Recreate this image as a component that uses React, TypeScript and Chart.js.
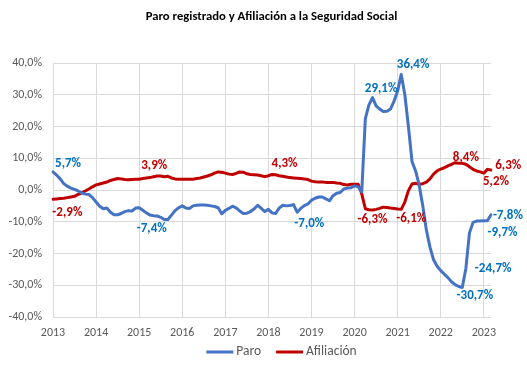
import React, { useEffect, useRef } from "react";
import { Chart, registerables } from "chart.js";

Chart.register(...registerables);

const TITLE = "Paro registrado y Afiliación a la Seguridad Social";
const YEARS = [2013, 2014, 2015, 2016, 2017, 2018, 2019, 2020, 2021, 2022, 2023];
const LAST_YEAR_MONTHS = 3;
const SERIES_NAMES = ["Paro", "Afiliación"];

const PARO = [
  5.7, 4.7, 3.5, 2.0, 1.2, 0.6, 0.2, -0.3, -0.9, -1.3, -1.4, -2.4,
  -3.8, -5.1, -5.9, -5.7, -7.0, -7.8, -7.8, -7.4, -6.8, -6.5, -6.6, -5.7,
  -5.6, -6.4, -7.2, -7.9, -8.1, -8.2, -8.6, -9.3, -9.3, -7.9, -6.5, -5.6,
  -5.0, -5.7, -5.8, -5.0, -4.8, -4.7, -4.7, -4.8, -5.0, -5.2, -5.6, -7.5,
  -6.4, -5.8, -5.1, -5.6, -6.6, -7.4, -7.3, -6.8, -6.0, -4.8, -5.8, -6.8,
  -6.1, -7.2, -7.4, -5.7, -4.8, -5.0, -4.9, -4.6, -7.0, -5.8, -4.9, -4.4,
  -3.2, -2.6, -2.2, -2.2, -2.8, -3.4, -1.8, -1.0, -0.8, 0.3, 0.6, 0.7,
  1.3, 1.0, -0.6, 22.5, 26.8, 29.1, 26.5, 25.5, 24.7, 24.8, 25.5, 28.0,
  31.2, 36.4, 30.0, 20.0, 9.0, 6.0, 1.5, -5.0, -12.6, -18.0, -22.0, -24.0,
  -25.4, -26.5, -27.6, -28.9, -29.8, -30.4, -30.7, -24.7, -13.5, -10.2, -9.8, -9.8,
  -9.7, -9.7, -7.8,
];

const AFILIACION = [
  -2.9, -2.8, -2.7, -2.6, -2.4, -2.2, -2.0, -1.4, -0.9, -0.3, 0.3, 1.0,
  1.6, 1.9, 2.2, 2.5, 3.0, 3.3, 3.6, 3.5, 3.3, 3.2, 3.3, 3.4,
  3.4, 3.6, 3.8, 3.9, 4.2, 4.4, 4.4, 4.2, 4.3, 3.8, 3.5, 3.4,
  3.4, 3.4, 3.4, 3.4, 3.6, 3.8, 4.1, 4.4, 4.8, 5.3, 5.7, 5.6,
  5.3, 5.0, 4.9, 5.2, 5.7, 5.6, 5.1, 4.9, 4.8, 4.7, 4.5, 4.2,
  4.5, 4.9, 4.8, 4.5, 4.3, 4.1, 3.9, 3.8, 3.7, 3.6, 3.5, 3.3,
  2.8, 2.6, 2.5, 2.5, 2.4, 2.4, 2.4, 2.2, 2.1, 1.7, 1.6, 1.8,
  1.8, 1.8, -1.2, -5.9, -6.2, -6.3, -6.1, -5.8, -5.4, -5.5, -5.7, -5.8,
  -6.0, -6.1, -3.8, -0.2, 1.9, 2.1, 1.8, 2.0, 2.5, 3.5, 5.0, 6.0,
  6.6, 7.0, 7.6, 8.1, 8.6, 8.4, 8.4, 8.1, 7.3, 6.5, 6.0, 5.7,
  5.3, 6.5, 6.3,
];

// data labels: text, series, anchor position in data units (month index, value)
const LABEL_TEXTS = ["5,7%", "-7,4%", "-7,0%", "29,1%", "36,4%", "-30,7%", "-24,7%", "-9,7%", "-7,8%",
  "-2,9%", "3,9%", "4,3%", "-6,3%", "-6,1%", "8,4%", "5,2%", "6,3%"];
const LABEL_SERIES = [0, 0, 0, 0, 0, 0, 0, 0, 0, 1, 1, 1, 1, 1, 1, 1, 1];
const LABEL_IDX = [4.2, 27.5, 71.4, 91.4, 100.3, 117.5, 122.6, 125.2, 126.7,
  4.0, 28.2, 64.5, 89.0, 99.8, 115.0, 123.4, 126.8];
const LABEL_VAL = [8.2, -12.3, -10.7, 32.0, 39.3, -33.4, -24.9, -13.4, -8.1,
  -7.1, 7.6, 8.2, -9.5, -9.1, 10.1, 2.6, 7.6];

const LINE_COLORS = ["#4472C4", "#C00000"];
const TEXT_COLORS = ["#0070C0", "#C00000"];
const FONT = "Carlito, 'Liberation Sans Narrow', 'Liberation Sans', sans-serif";

const CATEGORIES: string[] = [];
YEARS.forEach((yr, i) => {
  const n = i === YEARS.length - 1 ? LAST_YEAR_MONTHS : 12;
  for (let m = 1; m <= n; m++) CATEGORIES.push(`${yr}-${String(m).padStart(2, "0")}`);
});

const decorPlugin = {
  id: "decor",
  afterDatasetsDraw(chart: any) {
    const { ctx, scales } = chart;
    const xs = scales.x;
    const ys = scales.y;
    ctx.save();
    ctx.font = `bold 13px ${FONT}`;
    ctx.textAlign = "center";
    ctx.textBaseline = "middle";
    LABEL_TEXTS.forEach((t, i) => {
      ctx.fillStyle = TEXT_COLORS[LABEL_SERIES[i]];
      ctx.fillText(t, xs.getPixelForValue(LABEL_IDX[i]), ys.getPixelForValue(LABEL_VAL[i]));
    });
    ctx.restore();
  },
  afterDraw(chart: any) {
    const { ctx, width } = chart;
    ctx.save();
    // title
    ctx.font = `bold 12.7px ${FONT}`;
    ctx.fillStyle = "#000000";
    ctx.textAlign = "center";
    ctx.textBaseline = "middle";
    ctx.fillText(TITLE, width / 2 + 8, 17);
    // legend
    ctx.font = `13.5px ${FONT}`;
    const lineW = 27;
    const gapText = 3;
    const gapItem = 15;
    const widths = SERIES_NAMES.map((n) => ctx.measureText(n).width);
    const total = widths.reduce((a, w) => a + lineW + gapText + w, 0) + gapItem * (SERIES_NAMES.length - 1);
    let x = 281.5 - total / 2;
    const y = 352;
    ctx.textAlign = "left";
    SERIES_NAMES.forEach((n, i) => {
      ctx.strokeStyle = LINE_COLORS[i];
      ctx.lineWidth = 3;
      ctx.lineCap = "butt";
      ctx.beginPath();
      ctx.moveTo(x, y);
      ctx.lineTo(x + lineW, y);
      ctx.stroke();
      ctx.fillStyle = "#595959";
      ctx.fillText(n, x + lineW + gapText, y);
      x += lineW + gapText + widths[i] + gapItem;
    });
    ctx.restore();
  },
};

export default function App() {
  const ref = useRef<HTMLCanvasElement | null>(null);
  useEffect(() => {
    if (!ref.current) return;
    Chart.defaults.font.family = FONT;
    const chart = new Chart(ref.current, {
      type: "line",
      data: {
        labels: CATEGORIES,
        datasets: [PARO, AFILIACION].map((d, i) => ({
          label: SERIES_NAMES[i],
          data: d,
          borderColor: LINE_COLORS[i],
          backgroundColor: LINE_COLORS[i],
          borderWidth: 3,
          pointRadius: 0,
          tension: 0,
          borderJoinStyle: "round" as const,
          borderCapStyle: "round" as const,
        })),
      },
      options: {
        responsive: false,
        animation: false,
        devicePixelRatio: 1,
        layout: { padding: { left: 0, right: 36, top: 63, bottom: 0 } },
        plugins: {
          title: { display: false },
          legend: { display: false },
          tooltip: { enabled: false },
        },
        scales: {
          x: {
            type: "category",
            offset: false,
            border: { display: false },
            grid: {
              drawTicks: false,
              color: (c: any) => (c.index % 12 === 0 ? "#D9D9D9" : "rgba(0,0,0,0)"),
              lineWidth: 1,
            },
            ticks: {
              autoSkip: false,
              maxRotation: 0,
              minRotation: 0,
              padding: 9,
              color: "#595959",
              font: { size: 12, family: FONT },
              callback: (_v: any, i: number) => (i % 12 === 0 ? CATEGORIES[i].slice(0, 4) : ""),
            },
            afterFit: (s: any) => {
              s.height = 53;
            },
          },
          y: {
            min: -40,
            max: 40,
            border: { display: false },
            grid: { drawTicks: false, color: "#D9D9D9", lineWidth: 1 },
            ticks: {
              stepSize: 10,
              padding: 11,
              color: "#595959",
              font: { size: 12, family: FONT },
              callback: (v: any) => Number(v).toFixed(1).replace(".", ",") + "%",
            },
            afterFit: (s: any) => {
              s.width = 53;
            },
          },
        },
      },
      plugins: [decorPlugin],
    });
    return () => chart.destroy();
  }, []);
  return (
    <div style={{ position: "absolute", left: 0, top: 0, width: 527, height: 370, background: "#fff" }}>
      <canvas ref={ref} width={527} height={370} />
    </div>
  );
}
